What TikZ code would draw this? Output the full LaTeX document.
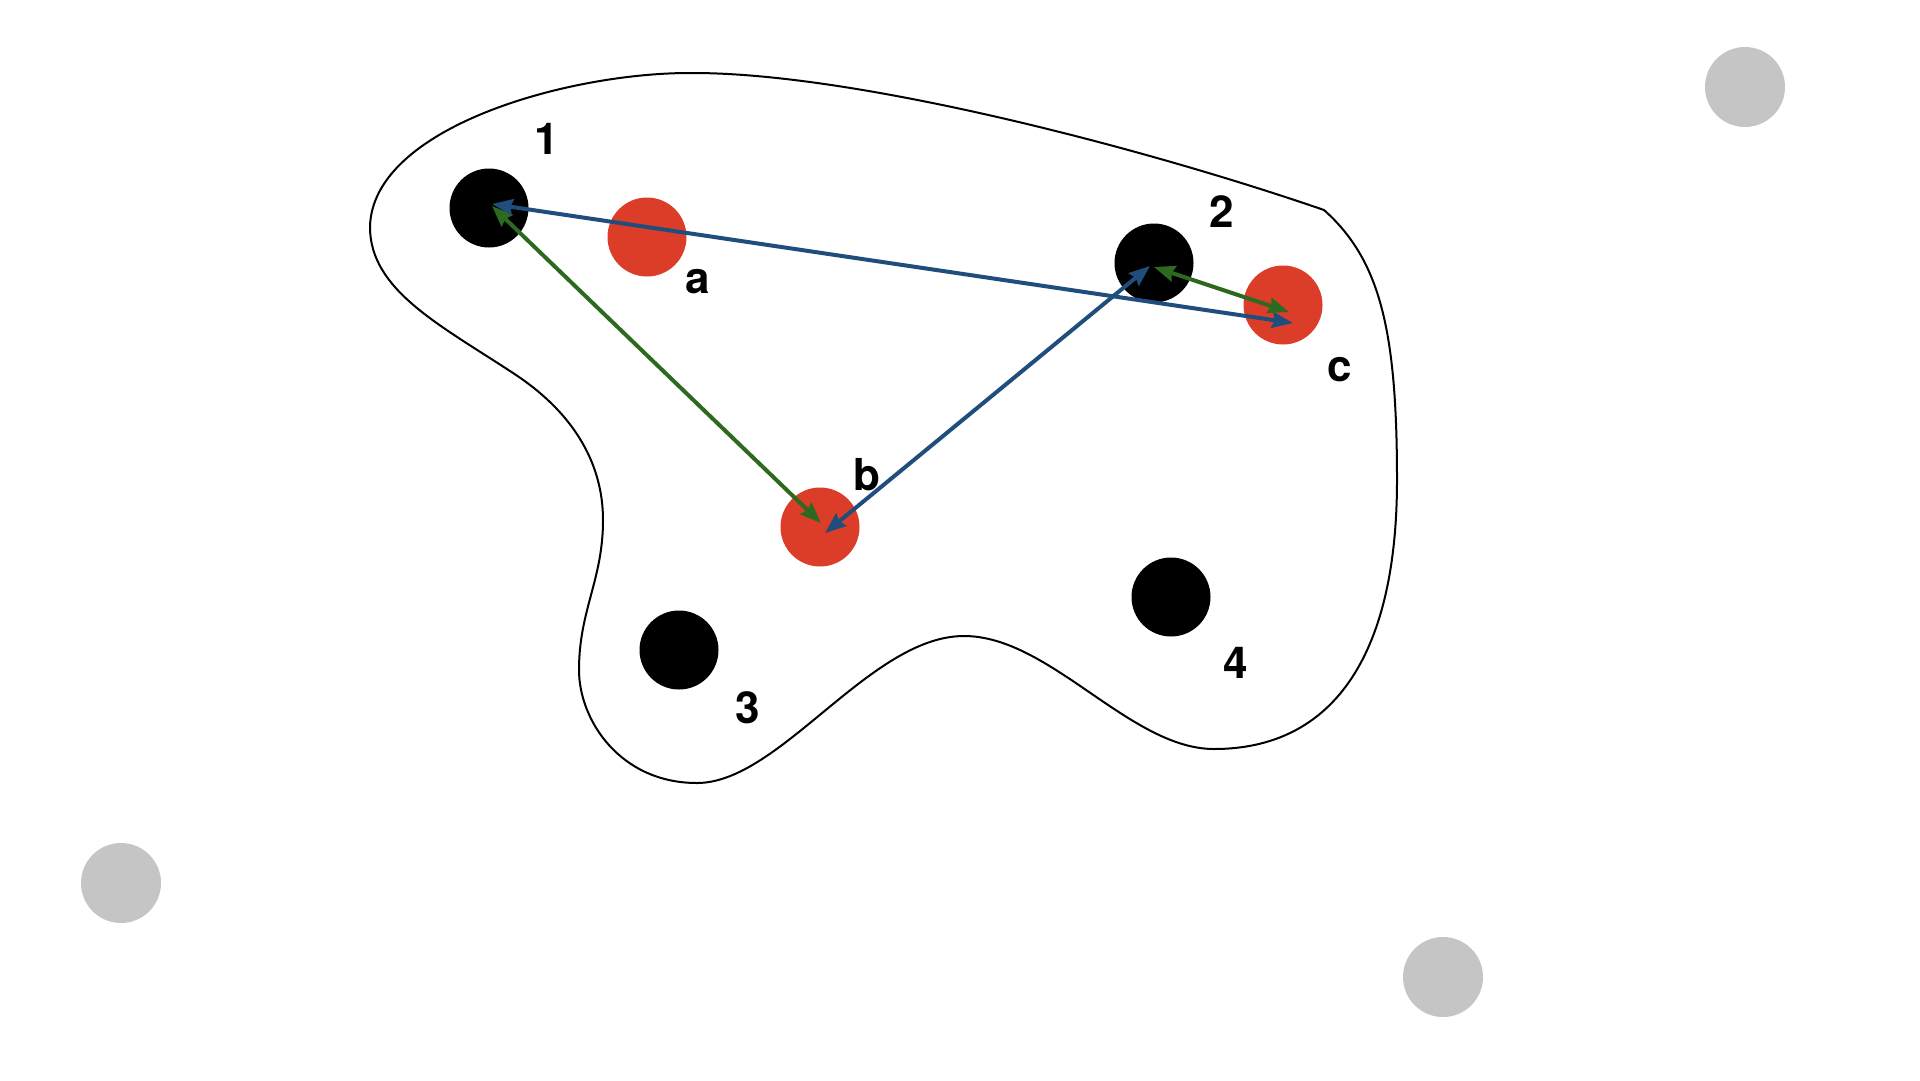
\documentclass[tikz,border=0pt]{standalone}
\usepackage{fontspec}
\setmainfont{TeX Gyre Heros}
\usetikzlibrary{arrows.meta}
\definecolor{dotred}{RGB}{219,61,41}
\definecolor{arrblue}{RGB}{31,78,125}
\definecolor{arrgreen}{RGB}{45,106,32}
\definecolor{dotgray}{RGB}{197,197,197}
\tikzset{
  dot/.style={circle, minimum size=79pt, inner sep=0pt, draw=none},
  blackdot/.style={dot, fill=black},
  reddot/.style={dot, fill=dotred},
  graydot/.style={dot, fill=dotgray, minimum size=80pt},
  lbl/.style={inner sep=0pt, font=\fontsize{44}{44}\selectfont\bfseries},
  link/.style={line width=4pt, {Stealth[length=21pt,width=16pt,inset=2.5pt]}-{Stealth[length=21pt,width=16pt,inset=2.5pt]}},
  bluelink/.style={link, draw=arrblue},
  greenlink/.style={link, draw=arrgreen},
  blob/.style={line width=2pt, draw=black, line join=miter}
}
\begin{document}
\begin{tikzpicture}[x=1pt,y=-1pt]
\useasboundingbox (0,0) rectangle (1920,1080);
\fill[white] (0,0) rectangle (1920,1080);
% outline
\draw[blob] (1324,210)
  .. controls (1150,150) and (860,73) .. (693,73)
  .. controls (570,72) and (372,127) .. (370,227)
  .. controls (370,290) and (440,325) .. (513,373)
  .. controls (570,410) and (603,460) .. (603,520)
  .. controls (603,580) and (579,610) .. (579,670)
  .. controls (579,720) and (620,783) .. (697,783)
  .. controls (780,783) and (870,636) .. (964,636)
  .. controls (1050,636) and (1130,749) .. (1214,749)
  .. controls (1330,749) and (1397,660) .. (1397,480)
  .. controls (1397,330) and (1380,260) .. cycle;
% gray dots
\node[graydot] (g1) at (1745,87) {};
\node[graydot] (g2) at (121,883) {};
\node[graydot] (g3) at (1443,977) {};
% black dots
\node[blackdot] (n1) at (489,208) {};
\node[blackdot] (n2) at (1154,263) {};
\node[blackdot] (n3) at (679,650) {};
\node[blackdot] (n4) at (1171,597) {};
% red dots
\node[reddot] (a) at (647,237) {};
\node[reddot] (b) at (820,527) {};
\node[reddot] (c) at (1283,305) {};
% labels
\node[lbl] (l1) at (547,139) {1};
\node[lbl] (l2) at (1222,212) {2};
\node[lbl] (l3) at (748,708) {3};
\node[lbl] (l4) at (1236,663) {4};
\node[lbl] (la) at (698,282) {a};
\node[lbl] (lb) at (867,475) {b};
\node[lbl] (lc) at (1340,370) {c};
% connectors
\draw[greenlink] ([shift={(3,-2)}]n1.center) -- ([shift={(1,-4)}]b.center);
\draw[bluelink] ([shift={(3,-4)}]n1.center) -- ([shift={(10,18)}]c.center);
\draw[bluelink] ([shift={(5,6)}]b.center) -- ([shift={(-4,3)}]n2.center);
\draw[greenlink] ([shift={(0,4)}]n2.center) -- ([shift={(6,7)}]c.center);
\end{tikzpicture}
\end{document}
